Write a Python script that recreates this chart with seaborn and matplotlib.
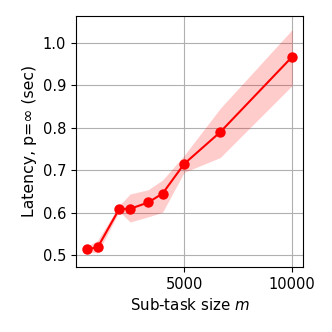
import matplotlib
matplotlib.use('Agg')
import matplotlib.pyplot as plt
import seaborn as sns
import pandas as pd

# Datos
m = [500, 1000, 2000, 2500, 3333, 4000, 5000, 6667, 10000]
latency = [0.514, 0.518, 0.609, 0.609, 0.624, 0.645, 0.715, 0.790, 0.968]
lower = [0.508, 0.505, 0.603, 0.578, 0.590, 0.601, 0.695, 0.730, 0.900]
upper = [0.520, 0.535, 0.617, 0.644, 0.654, 0.677, 0.735, 0.846, 1.032]

df = pd.DataFrame({'m': m, 'latency': latency})

fig = plt.figure(figsize=(3.32, 3.32), dpi=100)
ax = fig.add_axes([0.229, 0.196, 0.684, 0.756])

ax.fill_between(m, lower, upper, color='red', alpha=0.2, linewidth=0)
sns.lineplot(data=df, x='m', y='latency', ax=ax, color='red', marker='o',
             markersize=7.5, markeredgewidth=0, linewidth=1.5)

ax.grid(True, color='#b0b0b0', linewidth=0.8)
ax.set_axisbelow(True)
ax.set_xticks([5000, 10000])
ax.set_yticks([0.5, 0.6, 0.7, 0.8, 0.9, 1.0])
ax.set_xlim(0, 10500)
ax.set_ylim(0.472, 1.064)
ax.tick_params(labelsize=10.5)
ax.set_xlabel('Sub-task size $m$', fontsize=10.8)
ax.set_ylabel('Latency, p=∞ (sec)', fontsize=11.3)

fig.savefig('out.png')
